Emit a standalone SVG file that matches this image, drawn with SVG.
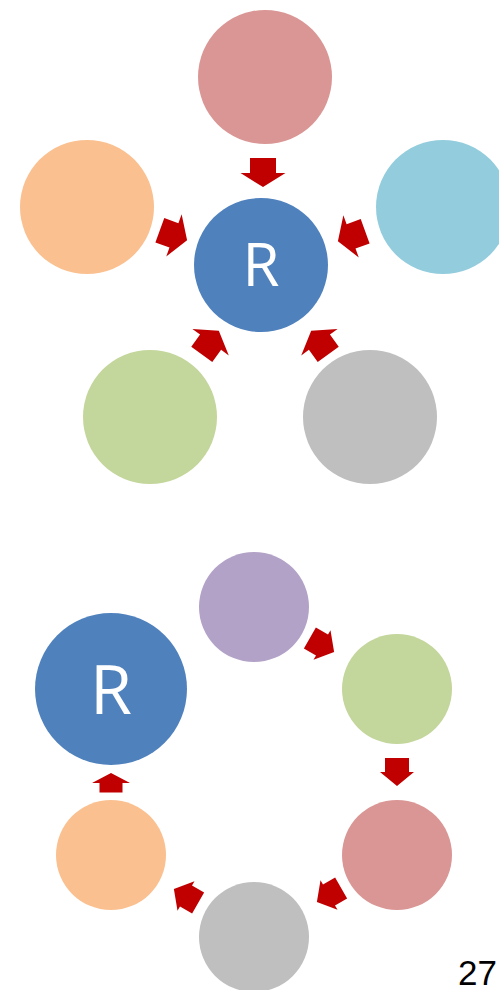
<svg xmlns="http://www.w3.org/2000/svg" width="499" height="990" viewBox="0 0 499 990">
<style>
.a{fill:#c00000}
.t{fill:#fff;font-family:"Open Sans","Liberation Sans",sans-serif;text-anchor:middle}
</style>
<defs>
<path id="big" d="M-14,-13 H1 V-22.5 L15,0 L1,22.5 V13 H-14 Z"/>
<path id="sm" d="M-14,-12 H0 V-17 L14,0 L0,17 V12 H-14 Z"/>
</defs>
<rect width="499" height="990" fill="#fff"/>
<g id="top-pink"><circle cx="265" cy="77" r="67" fill="#d99694"/></g>
<g id="top-orange"><circle cx="87" cy="207" r="67" fill="#fac090"/></g>
<g id="top-cyan"><circle cx="443" cy="207" r="67" fill="#93cddd"/></g>
<g id="top-green"><circle cx="150" cy="417" r="67" fill="#c3d69b"/></g>
<g id="top-gray"><circle cx="370" cy="417" r="67" fill="#bfbfbf"/></g>
<g id="top-R"><circle cx="261" cy="265" r="67" fill="#4f81bd"/><text class="t" x="261" y="286" font-size="60">R</text></g>
<g id="bot-R"><circle cx="111" cy="689" r="76" fill="#4f81bd"/><text class="t" x="111" y="714" font-size="68">R</text></g>
<g id="bot-purple"><circle cx="254" cy="607" r="55" fill="#b3a2c7"/></g>
<g id="bot-green"><circle cx="397" cy="689" r="55" fill="#c3d69b"/></g>
<g id="bot-pink"><circle cx="397" cy="855" r="55" fill="#d99694"/></g>
<g id="bot-gray"><circle cx="254" cy="937" r="55" fill="#bfbfbf"/></g>
<g id="bot-orange"><circle cx="111" cy="855" r="55" fill="#fac090"/></g>
<g id="connectors" class="a">
<use href="#big" transform="translate(263,172) rotate(90)"/>
<use href="#big" transform="translate(173,235) rotate(20)"/>
<use href="#big" transform="translate(352,236) rotate(160)"/>
<use href="#big" transform="translate(210,343) rotate(-54)"/>
<use href="#big" transform="translate(320,343) rotate(-126)"/>
<use href="#sm" transform="translate(322,645) rotate(30)"/>
<use href="#sm" transform="translate(397,772) rotate(90)"/>
<use href="#sm" transform="translate(329,895) rotate(150)"/>
<use href="#sm" transform="translate(186,896) rotate(-150)"/>
<path d="M99.5,792.5 V783 H92 L111,773 L130,783 H122.5 V792.5 Z"/>
</g>
<text x="497" y="985" font-family="Liberation Sans,Arial,sans-serif" font-size="35" text-anchor="end">27</text>
</svg>
